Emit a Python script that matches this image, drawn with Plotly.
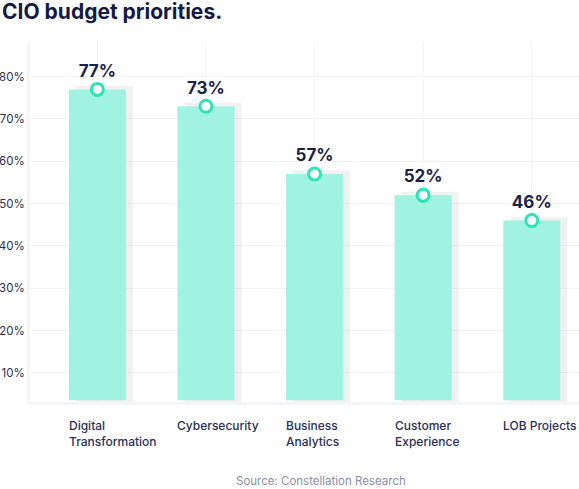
import plotly.graph_objects as go

# Data
categories = ["Digital<br>Transformation", "Cybersecurity", "Business<br>Analytics",
              "Customer<br>Experience", "LOB Projects"]
values = [77, 73, 57, 52, 46]
value_labels = ["77%", "73%", "57%", "52%", "46%"]
tick_vals = [10, 20, 30, 40, 50, 60, 70, 80]
tick_text = ["10%", "20%", "30%", "40%", "50%", "60%", "70%", "80%"]

navy = "#1b1f4b"
mint = "#a0f3e0"
ring = "#2ee3b6"
font = "Inter"

base = 3.5
bar_w = 0.525
xs = list(range(len(categories)))

fig = go.Figure()

# soft shadow behind each bar
fig.add_trace(go.Bar(
    x=xs, y=[v - base + 1.3 for v in values], base=base - 0.5,
    width=bar_w, offset=-bar_w / 2 + 0.065,
    marker=dict(color="rgba(0,0,0,0.055)", line_width=0),
    hoverinfo="skip"
))

fig.add_trace(go.Bar(
    x=xs, y=[v - base for v in values], base=base,
    width=bar_w, offset=-bar_w / 2,
    marker=dict(color=mint, line_width=0)
))

fig.add_trace(go.Scatter(
    x=xs, y=values, mode="markers+text",
    text=value_labels, textposition="top center",
    textfont=dict(family=font, size=17, color=navy, weight="bold"),
    marker=dict(size=12, color="white", line=dict(color=ring, width=3)),
    cliponaxis=False
))

# category labels, left aligned with the bars
for i, c in enumerate(categories):
    fig.add_annotation(
        x=i - bar_w / 2, xref="x", xanchor="left", xshift=-2,
        y=-0.038, yref="paper", yanchor="top",
        text=c, showarrow=False, align="left",
        font=dict(family=font, size=12, color="#2b2f57", weight=500)
    )

fig.add_annotation(
    x=0.53, xref="paper", y=-0.195, yref="paper", yanchor="top",
    text="Source: Constellation Research", showarrow=False,
    font=dict(family=font, size=11.5, color="#8a8ea8")
)

# title as a paper annotation so it sits flush left
fig.add_annotation(
    x=-30 / 549, xref="paper", xanchor="left",
    y=1.085, yref="paper", yanchor="middle",
    text="CIO budget priorities.", showarrow=False,
    font=dict(family=font, size=21, color="#141a45", weight="bold")
)

fig.update_layout(
    width=579, height=489,
    margin=dict(l=30, r=0, t=42, b=87),
    showlegend=False,
    barmode="overlay",
    plot_bgcolor="white",
    paper_bgcolor="white",
    xaxis=dict(range=[-0.62, 4.435], showticklabels=False, showgrid=True,
               gridcolor="#f4f4f7", tickvals=xs, zeroline=False, automargin=False,
               showline=True, linecolor="#f4f5f9", linewidth=3),
    yaxis=dict(range=[3.1, 88.2], tickvals=tick_vals, ticktext=tick_text,
               showgrid=True, gridcolor="#f3f3f6", zeroline=False, automargin=False,
               showline=True, linecolor="#f4f5f9", linewidth=3,
               tickfont=dict(family=font, size=11.5, color="#2a2e55"))
)

# drop the default page margin so the figure fills the window
fig.write_html("out.html", config={"displayModeBar": False},
               post_script="document.body.style.margin='0';")
